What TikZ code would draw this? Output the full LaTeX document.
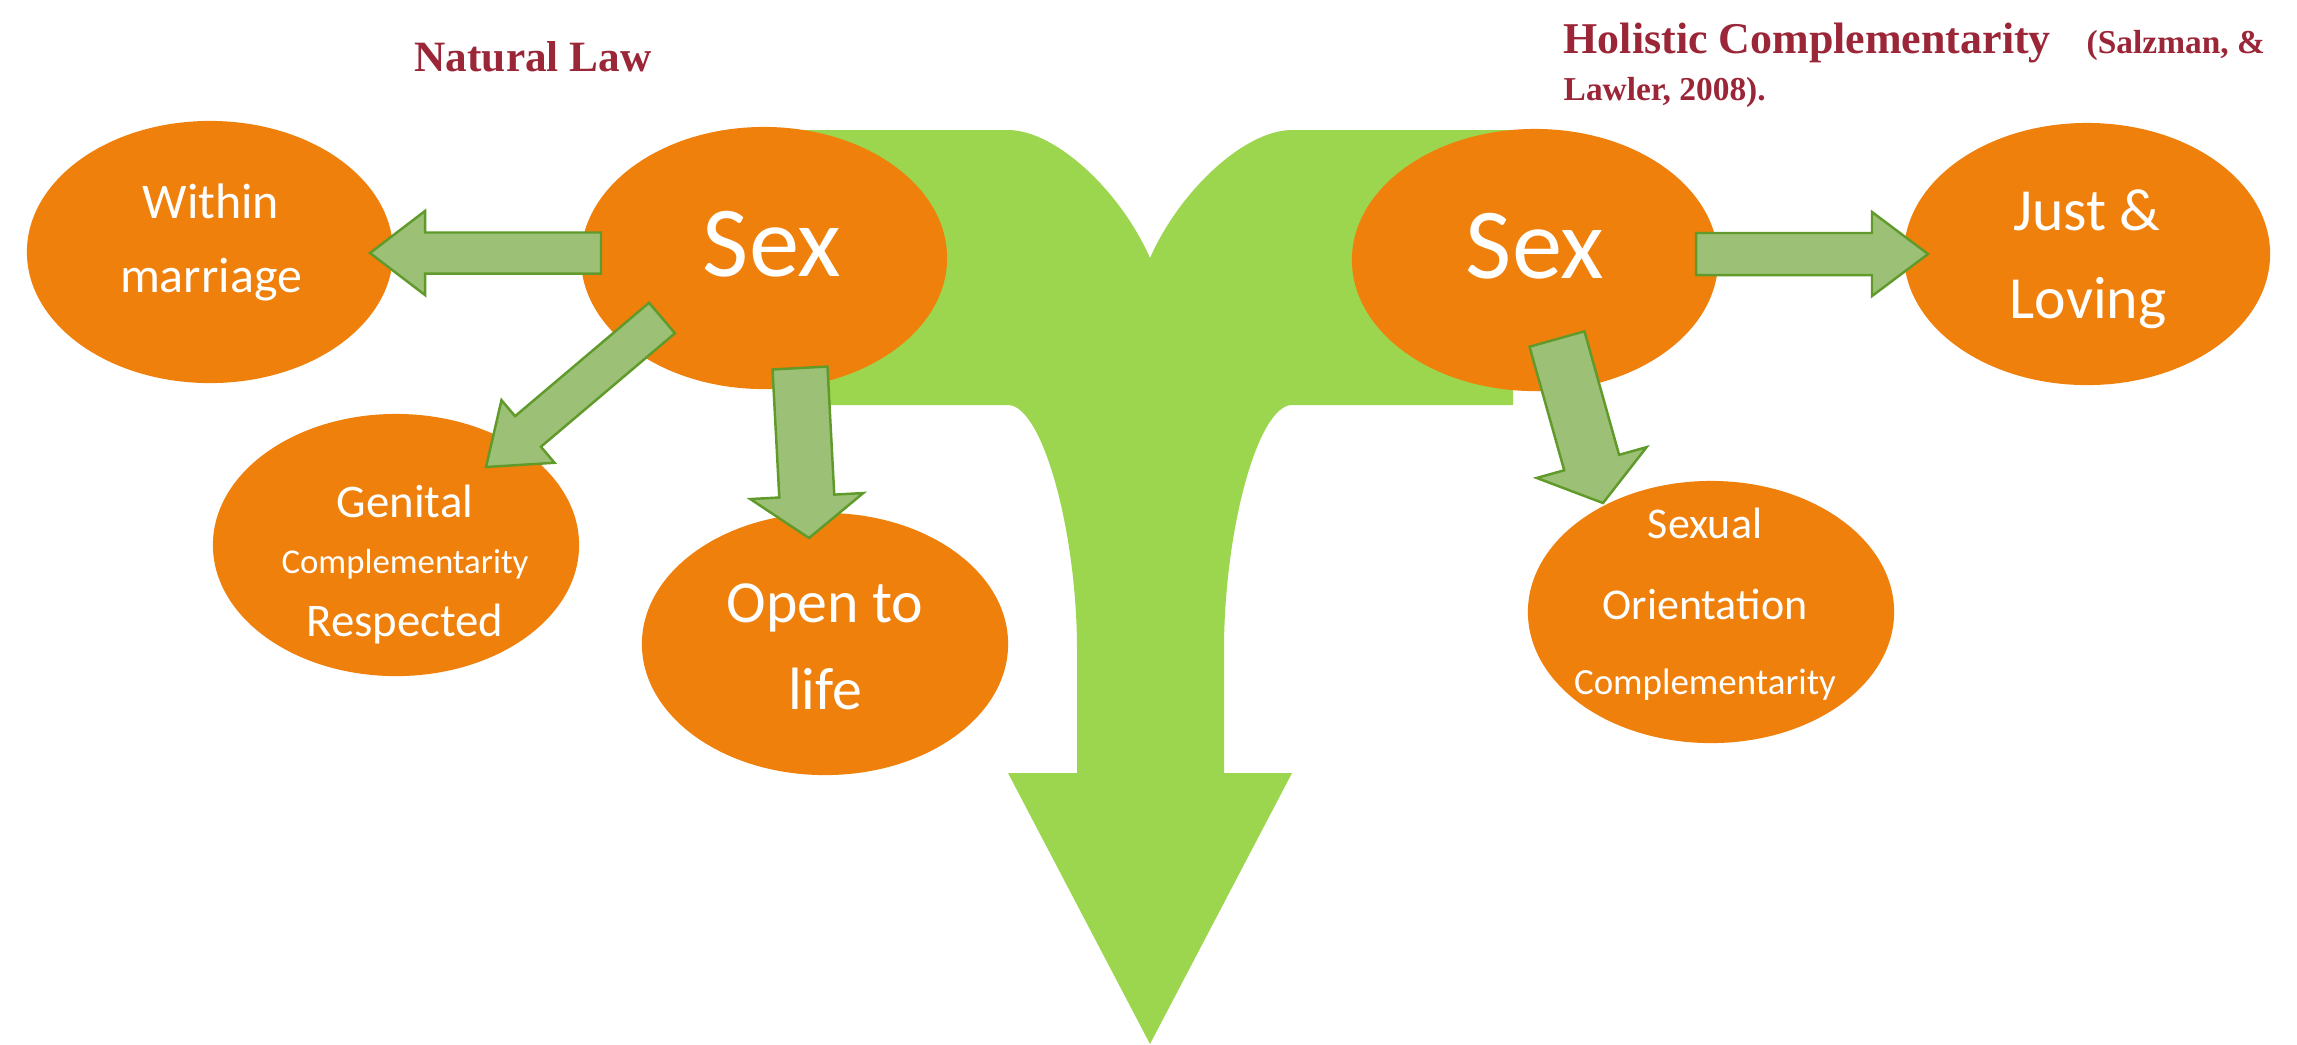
\documentclass[tikz,border=0pt]{standalone}
\usepackage{fontspec}
\setmainfont{Carlito}
\newfontfamily\titlefont{Liberation Serif}
\usetikzlibrary{shapes.geometric,calc}
\definecolor{bubbleOrange}{HTML}{EF800B}
\definecolor{bigGreen}{HTML}{9CD64F}
\definecolor{arrowFill}{HTML}{9DC077}
\definecolor{arrowLine}{HTML}{5F9A2B}
\definecolor{titleRed}{HTML}{9B2638}
\newcommand\blockarr[5]{%
  \coordinate (#1-m) at ($(#2)!#5!(#1)$);
  \filldraw[blockarrow] ($(#1)!#3!90:(#2)$) -- ($(#1-m)!#3!-90:(#1)$) -- ($(#1-m)!#4!-90:(#1)$) -- (#2) -- ($(#1-m)!#4!90:(#1)$) -- ($(#1-m)!#3!90:(#1)$) -- ($(#1)!#3!-90:(#2)$) -- cycle;}
\begin{document}
\begin{tikzpicture}[x=0.01cm,y=-0.01cm,
  bubble/.style={ellipse, fill=bubbleOrange, minimum width=3.66cm, minimum height=2.62cm, inner sep=0pt},
  blockarrow/.style={fill=arrowFill, draw=arrowLine, line width=0.7pt, line join=miter},
  lbl/.style={anchor=base, inner sep=0pt, text=white},
  ttl/.style={anchor=base west, inner sep=0pt, text=titleRed}]
\fill[white] (0,0) rectangle (2297,1044);
\useasboundingbox (0,0) rectangle (2297,1044);
% big T-shaped arrow
\fill[bigGreen] (787,130) -- (1008,130) .. controls (1055,130) and (1120,190) .. (1150,258)
  .. controls (1180,190) and (1245,130) .. (1292,130) -- (1513,130) -- (1513,405) -- (1292,405)
  .. controls (1258,405) and (1224,530) .. (1224,650) -- (1224,773) -- (1292,773) -- (1150,1044)
  -- (1008,773) -- (1077,773) -- (1077,650) .. controls (1077,530) and (1042,405) .. (1008,405)
  -- (787,405) -- cycle;
% bubbles
\node[bubble] (within) at (210,252) {};
\node[bubble] (sexL) at (764,258) {};
\node[bubble] (sexR) at (1535,260) {};
\node[bubble] (just) at (2087,254) {};
\node[bubble] (genital) at (396,545) {};
\node[bubble] (open) at (825,644) {};
\node[bubble] (orient) at (1711,612) {};
% block arrows
\coordinate (a1t) at (601,253); \coordinate (a1h) at (370,253);
\blockarr{a1t}{a1h}{0.205cm}{0.42cm}{0.55cm}
\coordinate (a2t) at (662,318); \coordinate (a2h) at (486,467);
\blockarr{a2t}{a2h}{0.2cm}{0.41cm}{0.55cm}
\coordinate (a3t) at (800,368); \coordinate (a3h) at (809,538);
\blockarr{a3t}{a3h}{0.275cm}{0.565cm}{0.42cm}
\coordinate (a4t) at (1696,254); \coordinate (a4h) at (1928,254);
\blockarr{a4t}{a4h}{0.21cm}{0.42cm}{0.56cm}
\coordinate (a5t) at (1557,339); \coordinate (a5h) at (1603,503);
\blockarr{a5t}{a5h}{0.285cm}{0.57cm}{0.42cm}
% labels
\node[lbl, font={\fontsize{14.2}{14.2}\selectfont}] (tw1) at (211,218) {Within};
\node[lbl, font={\fontsize{14.2}{14.2}\selectfont}] (tw2) at (211,292) {marriage};
\node[lbl, font={\fontsize{28.6}{28.6}\selectfont}] (ts1) at (772,276) {Sex};
\node[lbl, font={\fontsize{28.6}{28.6}\selectfont}] (ts2) at (1535,278) {Sex};
\node[lbl, font={\fontsize{17}{17}\selectfont}] (tj1) at (2087,230) {Just \&};
\node[lbl, font={\fontsize{17}{17}\selectfont}] (tj2) at (2088,318) {Loving};
\node[lbl, font={\fontsize{13.3}{13.3}\selectfont}] (tg1) at (405,517) {Genital};
\node[lbl, font={\fontsize{9.9}{9.9}\selectfont}] (tg2) at (405,573) {Complementarity};
\node[lbl, font={\fontsize{13.3}{13.3}\selectfont}] (tg3) at (405,636) {Respected};
\node[lbl, font={\fontsize{17}{17}\selectfont}] (to1) at (825,622) {Open to};
\node[lbl, font={\fontsize{17}{17}\selectfont}] (to2) at (825,709) {life};
\node[lbl, font={\fontsize{12.5}{12.5}\selectfont}] (tx1) at (1705,538) {Sexual};
\node[lbl, font={\fontsize{12.5}{12.5}\selectfont}] (tx2) at (1705,619) {Orientation};
\node[lbl, font={\fontsize{10.5}{10.5}\selectfont}] (tx3) at (1705,694) {Complementarity};
% titles
\node[ttl, font={\titlefont\bfseries\fontsize{12.3}{12.3}\selectfont}] (natlaw) at (414,71) {Natural Law};
\node[ttl, font={\titlefont\bfseries\fontsize{12.5}{12.5}\selectfont}] (holist) at (1563,53) {Holistic Complementarity};
\node[ttl, font={\titlefont\bfseries\fontsize{9.5}{9.5}\selectfont}] (cite1) at (2086,53) {(Salzman, \&};
\node[ttl, font={\titlefont\bfseries\fontsize{9.5}{9.5}\selectfont}] (cite2) at (1563,100) {Lawler, 2008).};
\end{tikzpicture}
\end{document}
